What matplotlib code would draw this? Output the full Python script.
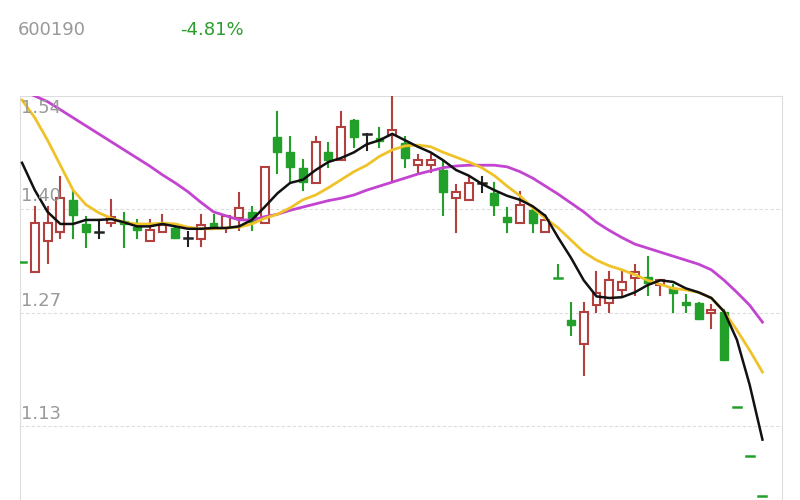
import matplotlib
matplotlib.use("Agg")
import matplotlib.pyplot as plt
from matplotlib.patches import Rectangle

opens = [1.334,1.321,1.360,1.371,1.411,1.381,1.371,1.382,1.385,1.377,1.360,1.371,1.376,1.364,1.362,1.382,1.376,1.388,1.396,1.382,
         1.489,1.470,1.451,1.432,1.470,1.460,1.510,1.493,1.488,1.492,1.482,1.454,1.454,1.448,1.413,1.411,1.432,1.419,1.390,1.382,
         1.398,1.371,1.314,1.262,1.232,1.280,1.283,1.299,1.314,1.315,1.305,1.301,1.284,1.283,1.270,1.272,1.154,1.093,1.043]
highs = [1.334,1.402,1.402,1.439,1.421,1.390,1.386,1.411,1.395,1.386,1.386,1.392,1.380,1.371,1.392,1.392,1.391,1.419,1.402,1.452,
         1.520,1.489,1.460,1.489,1.482,1.520,1.510,1.493,1.500,1.541,1.489,1.467,1.467,1.458,1.429,1.439,1.439,1.432,1.401,1.421,
         1.398,1.392,1.330,1.283,1.283,1.321,1.321,1.321,1.330,1.340,1.311,1.305,1.293,1.283,1.280,1.274,1.154,1.093,1.043]
lows = [1.334,1.321,1.332,1.364,1.364,1.352,1.364,1.378,1.352,1.364,1.360,1.371,1.364,1.354,1.354,1.377,1.371,1.373,1.373,1.382,
        1.444,1.433,1.423,1.432,1.452,1.460,1.477,1.473,1.477,1.433,1.452,1.444,1.446,1.392,1.371,1.411,1.421,1.392,1.371,1.382,
        1.371,1.371,1.314,1.243,1.193,1.272,1.272,1.293,1.293,1.293,1.293,1.272,1.272,1.263,1.252,1.212,1.154,1.093,1.043]
closes = [1.334,1.382,1.382,1.413,1.392,1.371,1.371,1.390,1.381,1.373,1.373,1.380,1.364,1.364,1.380,1.377,1.391,1.401,1.383,1.452,
          1.470,1.452,1.433,1.483,1.460,1.501,1.489,1.493,1.484,1.498,1.463,1.460,1.460,1.421,1.421,1.432,1.432,1.405,1.383,1.405,
          1.382,1.386,1.314,1.255,1.272,1.295,1.311,1.309,1.321,1.308,1.311,1.295,1.280,1.263,1.274,1.212,1.154,1.093,1.043]
ma_black = [1.457,1.423,1.396,1.381,1.381,1.386,1.386,1.387,1.383,1.378,1.378,1.381,1.378,1.375,1.375,1.376,1.376,1.378,1.386,1.402,
            1.419,1.432,1.436,1.448,1.458,1.463,1.470,1.480,1.485,1.493,1.485,1.477,1.470,1.460,1.448,1.441,1.431,1.423,1.416,1.411,
            1.403,1.391,1.364,1.339,1.311,1.291,1.289,1.290,1.296,1.305,1.311,1.309,1.301,1.296,1.289,1.272,1.237,1.181,1.113]
ma_yellow = [1.535,1.513,1.485,1.454,1.423,1.405,1.395,1.388,1.383,1.381,1.381,1.382,1.381,1.377,1.375,1.375,1.376,1.377,1.381,1.388,
             1.393,1.401,1.411,1.417,1.426,1.436,1.446,1.454,1.465,1.473,1.478,1.479,1.477,1.470,1.464,1.458,1.451,1.441,1.428,1.416,
             1.401,1.388,1.376,1.361,1.346,1.336,1.329,1.324,1.318,1.311,1.306,1.301,1.299,1.296,1.289,1.272,1.249,1.224,1.197]
ma_purple = [1.547,1.540,1.533,1.523,1.513,1.503,1.493,1.483,1.473,1.463,1.453,1.442,1.432,1.421,1.408,1.396,1.391,1.386,1.386,1.390,
             1.393,1.398,1.402,1.406,1.410,1.413,1.417,1.423,1.428,1.433,1.438,1.443,1.447,1.451,1.453,1.454,1.454,1.454,1.452,1.446,
             1.438,1.428,1.418,1.407,1.396,1.383,1.373,1.364,1.356,1.351,1.346,1.341,1.336,1.331,1.324,1.311,1.296,1.280,1.259]
ytick_vals = [1.54, 1.40, 1.27, 1.13]
ytick_labels = ["1.54", "1.40", "1.27", "1.13"]

RED = "#b2403f"
GREEN = "#22a02a"
fig = plt.figure(figsize=(8, 5), dpi=100)
ax = fig.add_axes([0.025, 0.0, 0.952, 0.808])
ax.set_xlim(-0.16, 59.5)
ax.set_ylim(1.038, 1.54)

w = 0.62
for i, (o, h, l, c) in enumerate(zip(opens, highs, lows, closes)):
    if abs(c - o) < 1e-9:
        col = "#222222" if h != l else GREEN
        if i in (0, 42, 56, 57, 58):
            col = GREEN
        ax.plot([i, i], [l, h], color=col, lw=1.5, zorder=3)
        ax.plot([i - w / 2, i + w / 2], [o, o], color=col, lw=1.8, zorder=3)
    elif c > o:
        ax.plot([i, i], [c, h], color=RED, lw=1.5, zorder=3)
        ax.plot([i, i], [l, o], color=RED, lw=1.5, zorder=3)
        ax.add_patch(Rectangle((i - w / 2, o), w, c - o, facecolor="white", edgecolor=RED, lw=1.5, zorder=3))
    else:
        ax.plot([i, i], [l, h], color=GREEN, lw=1.5, zorder=3)
        ax.add_patch(Rectangle((i - w / 2, c), w, o - c, facecolor=GREEN, edgecolor=GREEN, lw=1, zorder=3))

x = list(range(len(ma_black)))
ax.plot(x, ma_purple, color="#c244d0", lw=2, zorder=4)
ax.plot(x, ma_yellow, color="#f0c22a", lw=2, zorder=4)
ax.plot(x, ma_black, color="#111111", lw=1.8, zorder=5)

for v, lab in zip(ytick_vals, ytick_labels):
    if v < 1.53:
        ax.axhline(v, color="#dddddd", lw=0.8, ls=(0, (3, 2)), zorder=1)
        ax.text(-0.1, v + 0.004, lab, color="#999999", fontsize=13, va="bottom", ha="left", zorder=6)
    else:
        ax.text(-0.1, v - 0.004, lab, color="#999999", fontsize=13, va="top", ha="left", zorder=6)

ax.set_xticks([])
ax.set_yticks([])
for s in ("top", "left", "right"):
    ax.spines[s].set_color("#dddddd")
ax.spines["bottom"].set_visible(False)

fig.text(18 / 800, 1 - 30 / 500, "600190", color="#999999", fontsize=13, va="center")
fig.text(180 / 800, 1 - 30 / 500, "-4.81%", color="#2a9d2a", fontsize=13, va="center")

fig.savefig("out.png", dpi=100)
